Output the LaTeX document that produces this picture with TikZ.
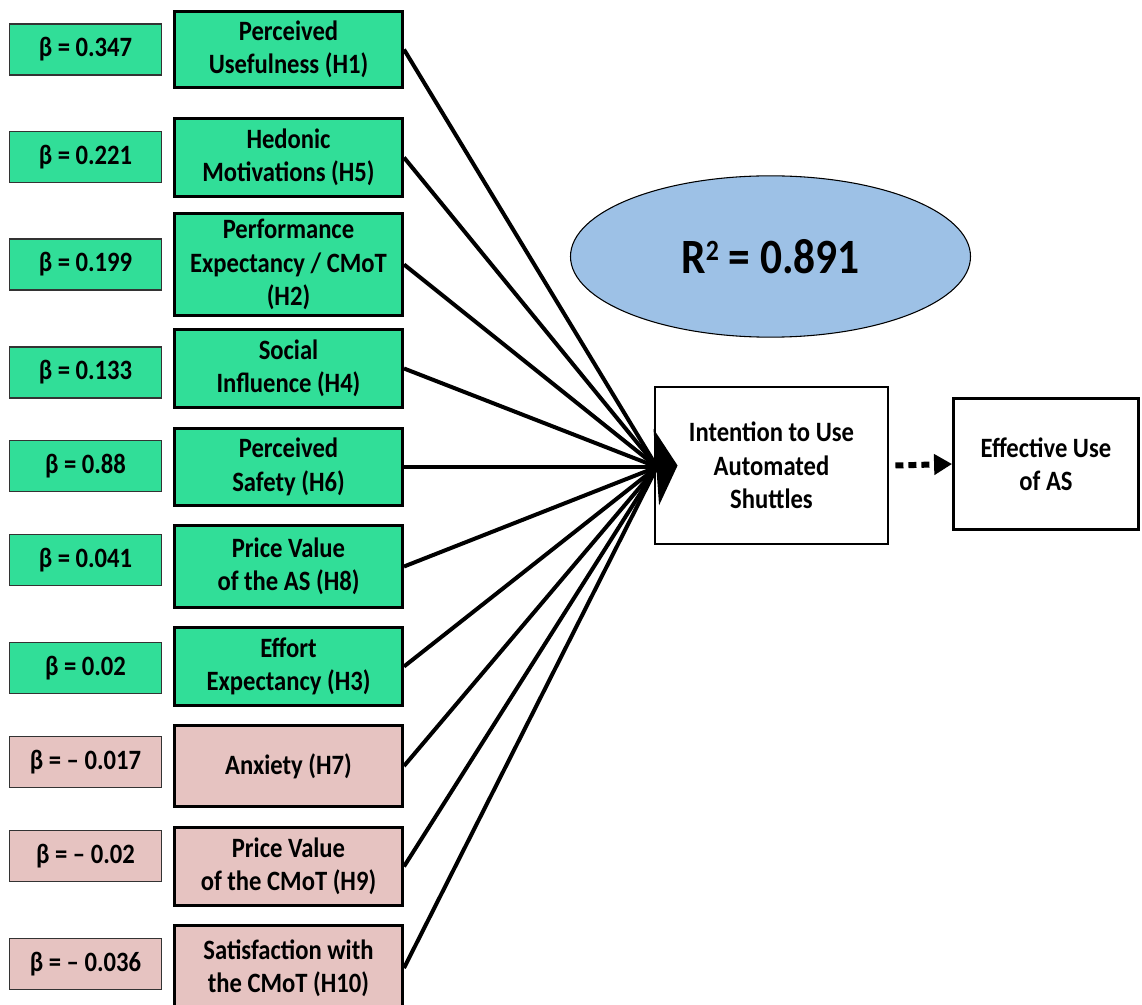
\documentclass[tikz,border=0pt]{standalone}
\usepackage{fontspec}
\setmainfont{Carlito}[FakeStretch=0.88]
\usetikzlibrary{arrows.meta,shapes.geometric}
\definecolor{boxgreen}{HTML}{31DE98}
\definecolor{boxpink}{HTML}{E6C3C1}
\definecolor{ellblue}{HTML}{9DC1E6}
\tikzset{
  txt/.style={font=\bfseries\fontsize{21pt}{25pt}\selectfont},
  hyp/.style={txt, draw=black, line width=2.25pt, fill=boxgreen, minimum width=171pt, align=center, inner sep=0pt},
  hypneg/.style={hyp, fill=boxpink},
  betabox/.style={txt, draw=black!80, line width=1.1pt, fill=boxgreen, minimum width=114pt, minimum height=38pt, inner sep=0pt},
  betaneg/.style={betabox, fill=boxpink},
  outbox/.style={txt, draw=black, line width=1.9pt, fill=white, align=center, inner sep=0pt},
  link/.style={line width=3pt},
}
\begin{document}
\begin{tikzpicture}[x=0.75pt,y=-0.75pt]
\path[use as bounding box, clip] (0,0) rectangle (1142,1005);
\fill[white] (0,0) rectangle (1142,1005);

% beta boxes
\node[betabox] (b1) at (85.5,49.5) {β = 0.347};
\node[betabox] (b2) at (85.5,157) {β = 0.221};
\node[betabox] (b3) at (85.5,264.5) {β = 0.199};
\node[betabox] (b4) at (85.5,372.5) {β = 0.133};
\node[betabox] (b5) at (85.5,466) {β = 0.88};
\node[betabox] (b6) at (85.5,560) {β = 0.041};
\node[betabox] (b7) at (85.5,668) {β = 0.02};
\node[betaneg] (b8) at (85.5,762) {β = – 0.017};
\node[betaneg] (b9) at (85.5,856) {β = – 0.02};
\node[betaneg] (b10) at (85.5,964) {β = – 0.036};

% hypothesis boxes
\node[hyp, minimum height=57.5pt] (h1) at (288.5,49.5) {Perceived\\Usefulness (H1)};
\node[hyp, minimum height=59pt] (h2) at (288.5,157.5) {Hedonic\\Motivations (H5)};
\node[hyp, minimum height=77pt] (h3) at (288.5,264.5) {Performance\\Expectancy / CMoT\\(H2)};
\node[hyp, minimum height=58pt] (h4) at (288.5,368.5) {Social\\Influence (H4)};
\node[hyp, minimum height=58pt] (h5) at (288.5,467) {Perceived\\Safety (H6)};
\node[hyp, minimum height=62pt] (h6) at (288.5,566.5) {Price Value\\of the AS (H8)};
\node[hyp, minimum height=59pt] (h7) at (288.5,666.5) {Effort\\Expectancy (H3)};
\node[hypneg, minimum height=61pt] (h8) at (288.5,766) {Anxiety (H7)};
\node[hypneg, minimum height=59pt] (h9) at (288.5,866.5) {Price Value\\of the CMoT (H9)};
\node[hypneg, minimum height=64pt] (h10) at (288.5,968) {Satisfaction with\\the CMoT (H10)};

% R squared
\node[ellipse, draw=black, line width=0.8pt, fill=ellblue, minimum width=300pt, minimum height=121pt, inner sep=0pt,
      font=\bfseries\fontsize{37pt}{40pt}\selectfont] (r2) at (770.5,256.5)
      {R\raisebox{9.4pt}{\fontsize{22pt}{22pt}\selectfont 2} = 0.891};

% outcome boxes
\node[outbox, minimum width=175pt, minimum height=118pt] (intent) at (771.5,465.5) {Intention to Use\\Automated\\Shuttles};
\node[outbox, minimum width=139pt, minimum height=98pt] (eff) at (1046,464) {Effective Use\\of AS};

% connectors
\coordinate (hub) at (657,467);
\foreach \i in {1,...,10} {
  \draw[link] (h\i.east) -- (hub);
}
\draw[link, -{Triangle[length=16pt,width=57pt]}] (hub) -- ([xshift=18pt]intent.west);

\draw[line width=4.5pt, dash pattern=on 6pt off 3.75pt, -{Triangle[length=13.5pt,width=15pt]}]
  ([xshift=4.5pt]intent.east) -- (eff.west);
\end{tikzpicture}
\end{document}
